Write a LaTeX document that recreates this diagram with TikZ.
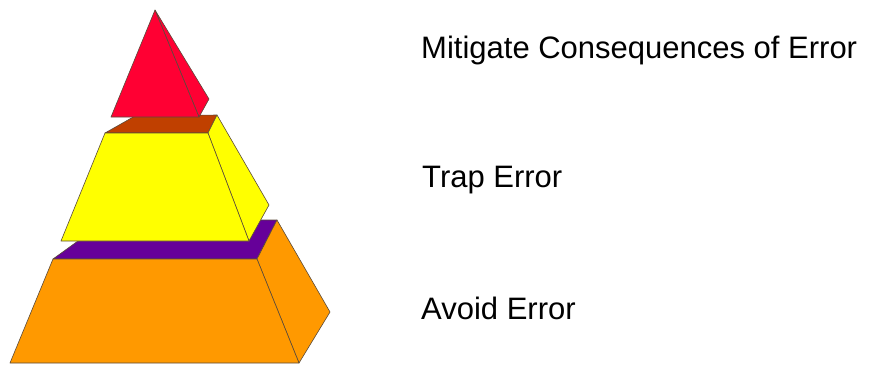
\documentclass[tikz,border=0pt]{standalone}
\usepackage{fontspec}
\setmainfont{Liberation Sans}
\definecolor{cred}{HTML}{FF0033}
\definecolor{cbrown}{HTML}{C04000}
\definecolor{cyellow}{HTML}{FFFF00}
\definecolor{cpurple}{HTML}{660099}
\definecolor{corange}{HTML}{FF9900}
\definecolor{cedge}{HTML}{5A4A3A}
\tikzset{
  face/.style={draw=cedge, line width=0.6pt, line join=round},
  label/.style={anchor=base west, inner sep=0pt, font=\fontsize{31}{36}\selectfont, text=black}
}
\begin{document}
\begin{tikzpicture}[x=1pt,y=-1pt]
\useasboundingbox (0,0) rectangle (872,365);
% bottom layer (orange)
\path[face, fill=cpurple] (53,259) -- (107,220) -- (277,220) -- (257,259) -- cycle;
\path[face, fill=corange] (257,259) -- (277,220) -- (330,312) -- (299,363) -- cycle;
\path[face, fill=corange] (53,259) -- (257,259) -- (299,363) -- (10,363) -- cycle;
% middle layer (yellow)
\path[face, fill=cbrown] (105,133) -- (135,116) -- (217,115) -- (208,133) -- cycle;
\path[face, fill=cyellow] (208,133) -- (217,115) -- (269,205) -- (249,241) -- cycle;
\path[face, fill=cyellow] (105,133) -- (208,133) -- (249,241) -- (61,241) -- cycle;
% top (red)
\path[face, fill=cred] (155,10) -- (209,99) -- (199,117) -- cycle;
\path[face, fill=cred] (155,10) -- (199,117) -- (111,117) -- cycle;
% labels
\node[label] (l1) at (421,58) {Mitigate Consequences of Error};
\node[label] (l2) at (422,187) {Trap Error};
\node[label] (l3) at (421,319) {Avoid Error};
\end{tikzpicture}
\end{document}
